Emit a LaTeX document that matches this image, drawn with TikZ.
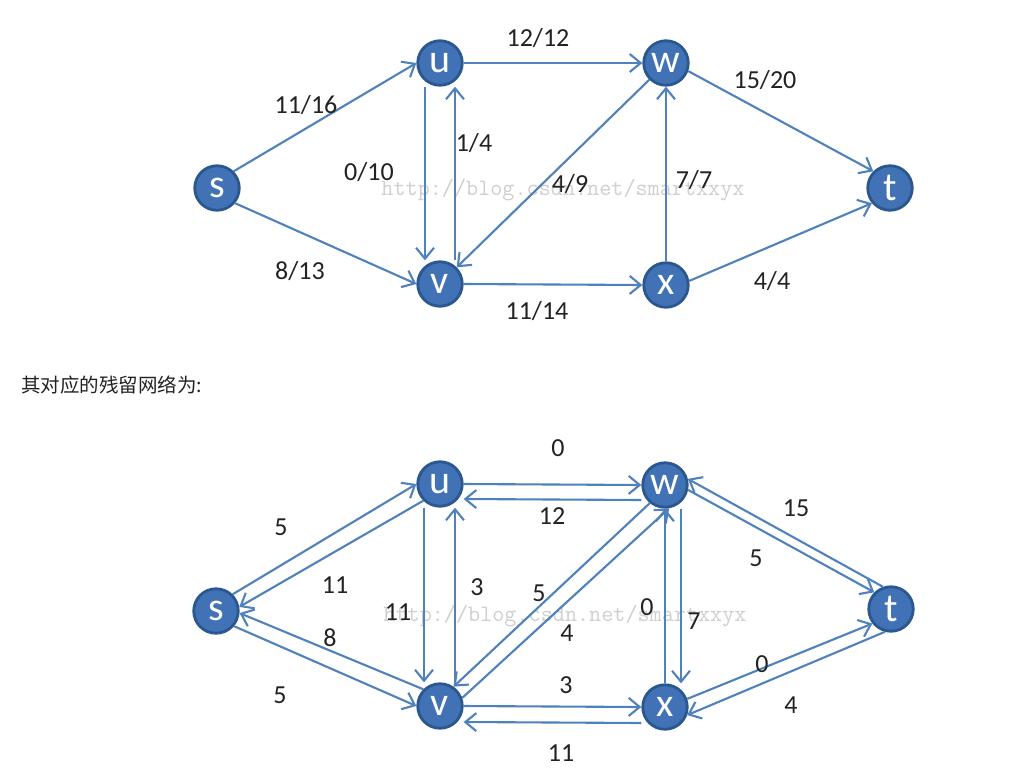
\documentclass[tikz,border=0pt]{standalone}
\usepackage{fontspec}
\setmainfont{Carlito}
\newfontfamily\cjk{Noto Sans CJK SC}
\usetikzlibrary{arrows.meta}
\definecolor{nodefill}{HTML}{4172B5}
\definecolor{nodeedge}{HTML}{2A578E}
\definecolor{edgecol}{HTML}{4F81BD}
\definecolor{wmcol}{HTML}{CFCFCF}
\definecolor{txtcol}{HTML}{222222}
\begin{document}
\begin{tikzpicture}[x=1pt,y=-1pt,
 vtx/.style={circle,fill=nodefill,draw=nodeedge,line width=2.8pt,minimum size=44.5pt,inner sep=0pt,text=white,font=\fontsize{40}{40}\selectfont},
 arr/.style={draw=edgecol,line width=2.1pt,-{Straight Barb[length=11pt,width=18pt,line width=2.1pt]}},
 lbl/.style={font=\fontsize{26}{28}\selectfont,text=txtcol,inner sep=0pt},
 wm/.style={font=\ttfamily\fontsize{23.5}{24}\selectfont,text=wmcol,inner sep=0pt}]
\fill[white] (0,0) rectangle (1010,780);
\useasboundingbox (0,0) rectangle (1010,780);

% watermarks
\node[wm] (wm1) at (563,190) {http://blog.csdn.net/smartxxyx};
\node[wm] (wm2) at (565,616) {http://blog.csdn.net/smartxxyx};

% ---------- flow network ----------
\node[vtx] (s1) at (217,188) {s};
\node[vtx] (u1) at (440,63) {u};
\node[vtx] (w1) at (666,63) {w};
\node[vtx] (v1) at (440,284) {v};
\node[vtx] (x1) at (666,285) {x};
\node[vtx] (t1) at (890,188) {t};

\draw[arr] (s1.45) -- (u1.west);
\draw[arr] (s1.-40) -- (v1.west);
\draw[arr] ([xshift=-15pt]u1.south) -- ([xshift=-15pt]v1.north);
\draw[arr] ([xshift=15pt]v1.north) -- ([xshift=15pt]u1.south);
\draw[arr] (u1.east) -- (w1.west);
\draw[arr] (w1.225) -- (v1.45);
\draw[arr] (v1.east) -- (x1.west);
\draw[arr] (x1.north) -- (w1.south);
\draw[arr] (w1.-20) -- (t1.135);
\draw[arr] (x1.10) -- (t1.220);

\node[lbl] (a1) at (306,105) {11/16};
\node[lbl] (a2) at (369,172) {0/10};
\node[lbl] (a3) at (300,271) {8/13};
\node[lbl] (a4) at (474,143) {1/4};
\node[lbl] (a5) at (538,38) {12/12};
\node[lbl] (a6) at (570,184) {4/9};
\node[lbl] (a7) at (537,311) {11/14};
\node[lbl] (a8) at (765,80) {15/20};
\node[lbl] (a9) at (694,180) {7/7};
\node[lbl] (a10) at (772,281) {4/4};

% caption
\node[anchor=west,inner sep=0pt,text=txtcol,font=\cjk\fontsize{19.5}{22}\selectfont] (cap) at (21,385) {其对应的残留网络为:};

% ---------- residual network ----------
\node[vtx] (s2) at (216,611) {s};
\node[vtx] (u2) at (440,484) {u};
\node[vtx] (w2) at (665,485) {w};
\node[vtx] (v2) at (440,706) {v};
\node[vtx] (x2) at (665,707) {x};
\node[vtx] (t2) at (891,609) {t};

\draw[arr] (s2.45) -- (u2.west);
\draw[arr] (u2.225) -- (s2.10);
\draw[arr] (v2.135) -- (s2.-5);
\draw[arr] (s2.-40) -- (v2.west);
\draw[arr] ([xshift=-16pt]u2.south) -- ([xshift=-16pt]v2.north);
\draw[arr] ([xshift=15pt]v2.north) -- ([xshift=15pt]u2.south);
\draw[arr] (u2.east) -- (w2.west);
\draw[arr] ([yshift=-15pt]w2.west) -- ([yshift=-15pt]u2.east);
\draw[arr] (v2.east) -- (x2.west);
\draw[arr] ([yshift=-16pt]x2.west) -- ([yshift=-16pt]v2.east);
\draw[arr] (x2.north) -- (w2.south);
\draw[arr] ([xshift=16pt]w2.south) -- ([xshift=16pt]x2.north);
\draw[arr] (w2.230) -- (v2.55);
\draw[arr] (v2.20) -- (w2.-80);
\draw[arr] (t2.110) -- (w2.15);
\draw[arr] (w2.-12) -- (t2.135);
\draw[arr] (x2.20) -- (t2.218);
\draw[arr] (t2.255) -- (x2.-20);

\node[lbl] (b1) at (281,527) {5};
\node[lbl] (b2) at (335,585) {11};
\node[lbl] (b3) at (330,638) {8};
\node[lbl] (b4) at (280,695) {5};
\node[lbl] (b5) at (398,612) {11};
\node[lbl] (b6) at (477,587) {3};
\node[lbl] (b7) at (558,448) {0};
\node[lbl] (b8) at (552,516) {12};
\node[lbl] (b9) at (539,593) {5};
\node[lbl] (b10) at (567,633) {4};
\node[lbl] (b11) at (647,607) {0};
\node[lbl] (b12) at (694,621) {7};
\node[lbl] (b13) at (566,685) {3};
\node[lbl] (b14) at (561,753) {11};
\node[lbl] (b15) at (796,508) {15};
\node[lbl] (b16) at (756,558) {5};
\node[lbl] (b17) at (762,664) {0};
\node[lbl] (b18) at (791,705) {4};
\end{tikzpicture}
\end{document}
